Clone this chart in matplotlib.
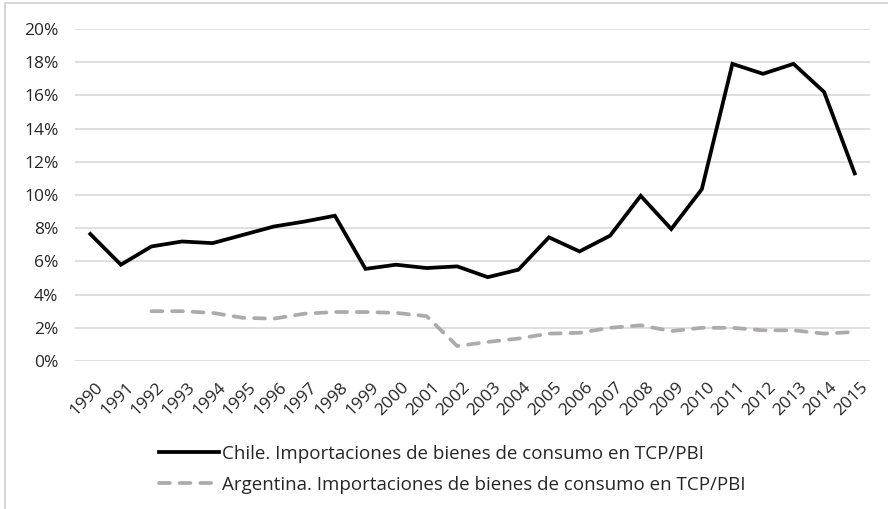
import matplotlib
matplotlib.use('Agg')
import matplotlib.pyplot as plt
from matplotlib.patches import Rectangle
from matplotlib.ticker import FuncFormatter
from matplotlib.transforms import ScaledTranslation

plt.rcParams['font.family'] = ['Open Sans', 'DejaVu Sans']

years = list(range(1990, 2016))
chile = [7.65, 5.8, 6.9, 7.2, 7.1, 7.6, 8.1, 8.4, 8.75, 5.55, 5.8, 5.6, 5.7,
         5.05, 5.5, 7.45, 6.6, 7.55, 9.95, 7.95, 10.35, 17.9, 17.3, 17.9, 16.2, 11.3]
arg_years = list(range(1992, 2016))
argentina = [3.0, 3.0, 2.9, 2.6, 2.55, 2.85, 2.95, 2.95, 2.9, 2.7, 0.9, 1.15,
             1.35, 1.65, 1.7, 2.0, 2.15, 1.8, 2.0, 2.0, 1.85, 1.85, 1.65, 1.75]

label_chile = 'Chile. Importaciones de bienes de consumo en TCP/PBI'
label_arg = 'Argentina. Importaciones de bienes de consumo en TCP/PBI'

FS = 12.5
TXT = '#262626'

fig = plt.figure(figsize=(8.88, 5.09), dpi=100)
ax = fig.add_axes([75 / 888, 1 - 361 / 509, (870 - 75) / 888, (361 - 29) / 509])

# outer frame like the original export
fig.patches.append(Rectangle((5 / 888, -0.1), 1.2, 1 - 3 / 509 + 0.1,
                             transform=fig.transFigure, fill=False,
                             ec='#d0d0d0', lw=1.2))

ax.plot(years, chile, color='black', lw=2.7, solid_joinstyle='miter',
        label=label_chile, zorder=3)
ax.plot(arg_years, argentina, color='#aeaaaa', lw=2.7, ls=(0, (2.9, 2.6)),
        dash_capstyle='round', label=label_arg, zorder=3)

ax.set_ylim(0, 20)
ax.set_yticks(range(0, 21, 2))
ax.yaxis.set_major_formatter(FuncFormatter(lambda v, p: f'{int(v)}%'))
ax.set_xlim(1989.5, 2015.5)
ax.set_xticks(years)
ax.set_xticklabels([str(y) for y in years], rotation=45, ha='right',
                   rotation_mode='anchor')
ax.grid(axis='y', color='#d9d9d9', lw=1.2)
ax.set_axisbelow(True)
for s in ax.spines.values():
    s.set_visible(False)
ax.tick_params(axis='both', length=0, labelsize=FS, colors=TXT)
ax.tick_params(axis='x', pad=13)
ax.tick_params(axis='y', pad=12)

# nudge the rotated year labels a little to the right
shift = ScaledTranslation(5 / 100, 0, fig.dpi_scale_trans)
for lab in ax.get_xticklabels():
    lab.set_transform(lab.get_transform() + shift)

fig.legend(loc='upper left', bbox_to_anchor=(142 / 888, 1 - 428 / 509),
           frameon=False, fontsize=13.5, handlelength=3.2, handletextpad=0.15,
           labelspacing=0.7, labelcolor=TXT)

fig.savefig('out.png', dpi=100)
